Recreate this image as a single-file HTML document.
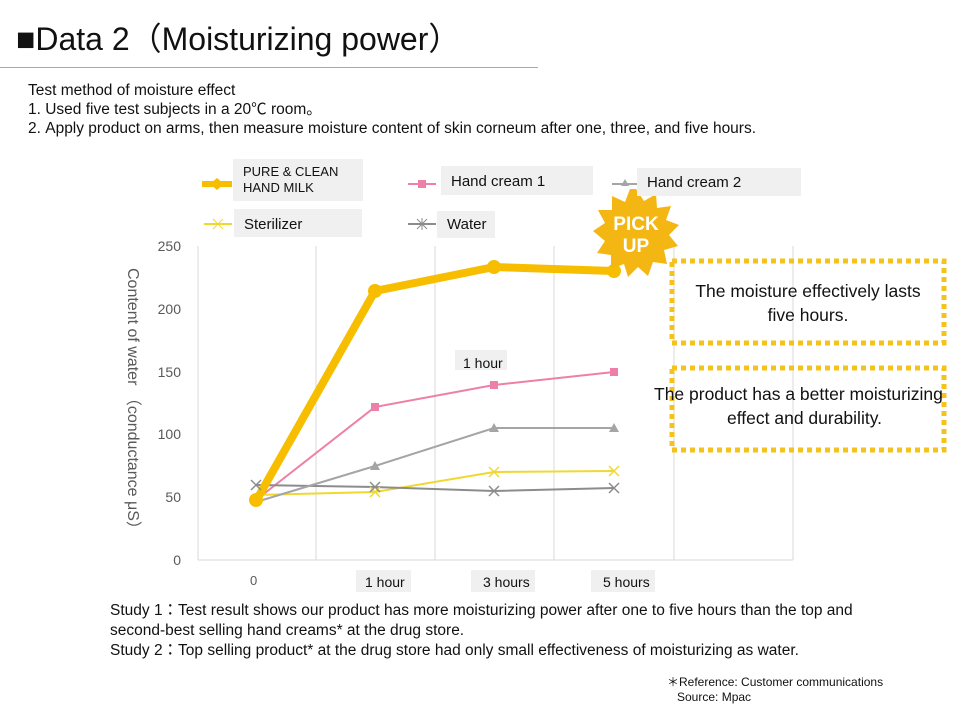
<!DOCTYPE html>
<html><head><meta charset="utf-8"><style>
body{margin:0;width:960px;height:720px;background:#fff;font-family:"Liberation Sans","Noto Sans CJK JP",sans-serif;position:relative;overflow:hidden;color:#111}
.a{position:absolute;white-space:nowrap}
.lb{position:absolute;background:#f0f0f0}
</style></head><body>
<div class="a" style="left:16px;top:14px;font-size:32px">■Data 2（Moisturizing power）</div>
<div class="a" style="left:0;top:67px;width:538px;border-top:1px solid #aaa"></div>
<div class="a" style="left:28px;top:81px;font-size:15.5px;line-height:19px">Test method of moisture effect<br>1. Used five test subjects in a 20℃ room。<br>2. Apply product on arms, then measure moisture content of skin corneum after one, three, and five hours.</div>
<svg class="a" style="left:0;top:0" width="960" height="720">
<g stroke="#d9d9d9" stroke-width="1">
<line x1="198" y1="246" x2="198" y2="560"/><line x1="316" y1="246" x2="316" y2="560"/><line x1="435" y1="246" x2="435" y2="560"/><line x1="554" y1="246" x2="554" y2="560"/><line x1="674" y1="246" x2="674" y2="560"/><line x1="793" y1="246" x2="793" y2="560"/><line x1="198" y1="560" x2="793" y2="560"/>
</g>
<g font-size="14" fill="#595959" text-anchor="end" font-family="Liberation Sans">
<text x="181" y="251">250</text><text x="181" y="314">200</text><text x="181" y="377">150</text><text x="181" y="439">100</text><text x="181" y="502">50</text><text x="181" y="565">0</text>
</g>
<text transform="translate(128,268) rotate(90)" font-size="16" fill="#595959" font-family="Liberation Sans,Noto Sans CJK JP,sans-serif">Content of water （conductance μS）</text>
<polyline points="256,500 375,407 494,385 614,372" fill="none" stroke="#ee7fa8" stroke-width="2"/>
<polyline points="256,495 375,492 494,472 614,471" fill="none" stroke="#f0d832" stroke-width="2"/>
<polyline points="256,485 375,487 494,491 614,488" fill="none" stroke="#8c8c8c" stroke-width="2"/>
<polyline points="256,502 375,466 494,428 614,428" fill="none" stroke="#a5a5a5" stroke-width="2"/>
<polyline points="256,501 375,291 494,267 614,271" fill="none" stroke="#f7be00" stroke-width="8" stroke-linejoin="round"/>
<g fill="#ee7fa8"><rect x="371" y="403" width="8" height="8"/><rect x="490" y="381" width="8" height="8"/><rect x="610" y="368" width="8" height="8"/></g>
<g fill="#a5a5a5"><path d="M375 461l5 9h-10z"/><path d="M494 423l5 9h-10z"/><path d="M614 423l5 9h-10z"/></g>
<g fill="#f7be00"><circle cx="375" cy="291" r="7"/><circle cx="494" cy="267" r="7"/><circle cx="614" cy="271" r="7"/><circle cx="256" cy="500" r="7"/></g>
<g stroke="#f0d832" stroke-width="1.5"><path d="M370 487l10 10M380 487l-10 10M489 467l10 10M499 467l-10 10M609 466l10 10M619 466l-10 10"/></g>
<g stroke="#8c8c8c" stroke-width="1.5"><path d="M251 480l10 10M261 480l-10 10M370 482l10 10M380 482l-10 10M489 486l10 10M499 486l-10 10M609 483l10 10M619 483l-10 10"/></g>
<line x1="202" y1="184" x2="232" y2="184" stroke="#f7be00" stroke-width="6"/><path d="M217 178l7 6-7 6-7-6z" fill="#f7be00"/>
<line x1="408" y1="184" x2="436" y2="184" stroke="#ee7fa8" stroke-width="2"/><rect x="418" y="180" width="8" height="8" fill="#ee7fa8"/>
<line x1="612" y1="184" x2="638" y2="184" stroke="#a5a5a5" stroke-width="2"/><path d="M625 179l4 7h-8z" fill="#a5a5a5"/>
<line x1="204" y1="224" x2="232" y2="224" stroke="#f0d832" stroke-width="2"/><path d="M213 219l10 10M223 219l-10 10" stroke="#f0d832"/>
<line x1="408" y1="224" x2="436" y2="224" stroke="#8c8c8c" stroke-width="2"/><path d="M417 219l10 10M427 219l-10 10M422 218v12" stroke="#8c8c8c"/>
<g transform="translate(636,233)">
<polygon fill="#f3b613" points="0,-44 8,-32 20,-39 21,-25 35,-27 30,-13 43,-8 33,2 42,13 28,17 31,31 17,29 12,43 2,34 -8,44 -12,31 -25,36 -25,22 -39,20 -31,8 -43,-2 -31,-10 -38,-23 -24,-23 -24,-37 -11,-31 -6,-44"/>
<text x="0" y="-3" text-anchor="middle" font-size="19" font-weight="bold" fill="#fff" font-family="Liberation Sans">PICK</text>
<text x="0" y="19" text-anchor="middle" font-size="19" font-weight="bold" fill="#fff" font-family="Liberation Sans">UP</text>
</g>
<rect x="672" y="261" width="272" height="82" fill="none" stroke="#f3c21b" stroke-width="5" stroke-dasharray="5 4"/>
<rect x="672" y="368" width="272" height="82" fill="none" stroke="#f3c21b" stroke-width="5" stroke-dasharray="5 4"/>
</svg>
<div class="lb" style="left:233px;top:159px;width:130px;height:42px"></div>
<div class="a" style="left:243px;top:164px;font-size:13px;line-height:16px">PURE &amp; CLEAN<br>HAND MILK</div>
<div class="lb" style="left:441px;top:166px;width:152px;height:29px"></div>
<div class="a" style="left:451px;top:173px;font-size:15px">Hand cream 1</div>
<div class="lb" style="left:637px;top:168px;width:164px;height:28px"></div>
<div class="a" style="left:647px;top:174px;font-size:15px">Hand cream 2</div>
<div class="lb" style="left:234px;top:209px;width:128px;height:28px"></div>
<div class="a" style="left:244px;top:216px;font-size:15px">Sterilizer</div>
<div class="lb" style="left:437px;top:211px;width:58px;height:27px"></div>
<div class="a" style="left:447px;top:216px;font-size:15px">Water</div>
<div class="lb" style="left:455px;top:350px;width:52px;height:20px"></div>
<div class="a" style="left:463px;top:355px;font-size:14px">1 hour</div>
<div class="a" style="left:250px;top:573px;font-size:13px;color:#595959">0</div>
<div class="lb" style="left:356px;top:570px;width:55px;height:22px"></div>
<div class="a" style="left:365px;top:574px;font-size:14px">1 hour</div>
<div class="lb" style="left:471px;top:570px;width:64px;height:22px"></div>
<div class="a" style="left:483px;top:574px;font-size:14px">3 hours</div>
<div class="lb" style="left:591px;top:570px;width:64px;height:22px"></div>
<div class="a" style="left:603px;top:574px;font-size:14px">5 hours</div>
<div class="a" style="left:672px;top:279px;width:272px;text-align:center;font-size:17.5px;line-height:24px;white-space:normal">The moisture effectively lasts<br>five hours.</div>
<div class="a" style="left:654px;top:382px;font-size:17.5px;line-height:24px">The product has a better moisturizing<br><span style="padding-left:73px">effect and durability.</span></div>
<div class="a" style="left:110px;top:601px;font-size:15.5px;line-height:20px">Study 1：Test result shows our product has more moisturizing power after one to five hours than the top and<br>second-best selling hand creams* at the drug store.<br>Study 2：Top selling product* at the drug store had only small effectiveness of moisturizing as water.</div>
<div class="a" style="left:667px;top:675px;font-size:12px;line-height:15px">＊Reference: Customer communications<br>&nbsp;&nbsp;&nbsp;Source: Mpac</div>
</body></html>
